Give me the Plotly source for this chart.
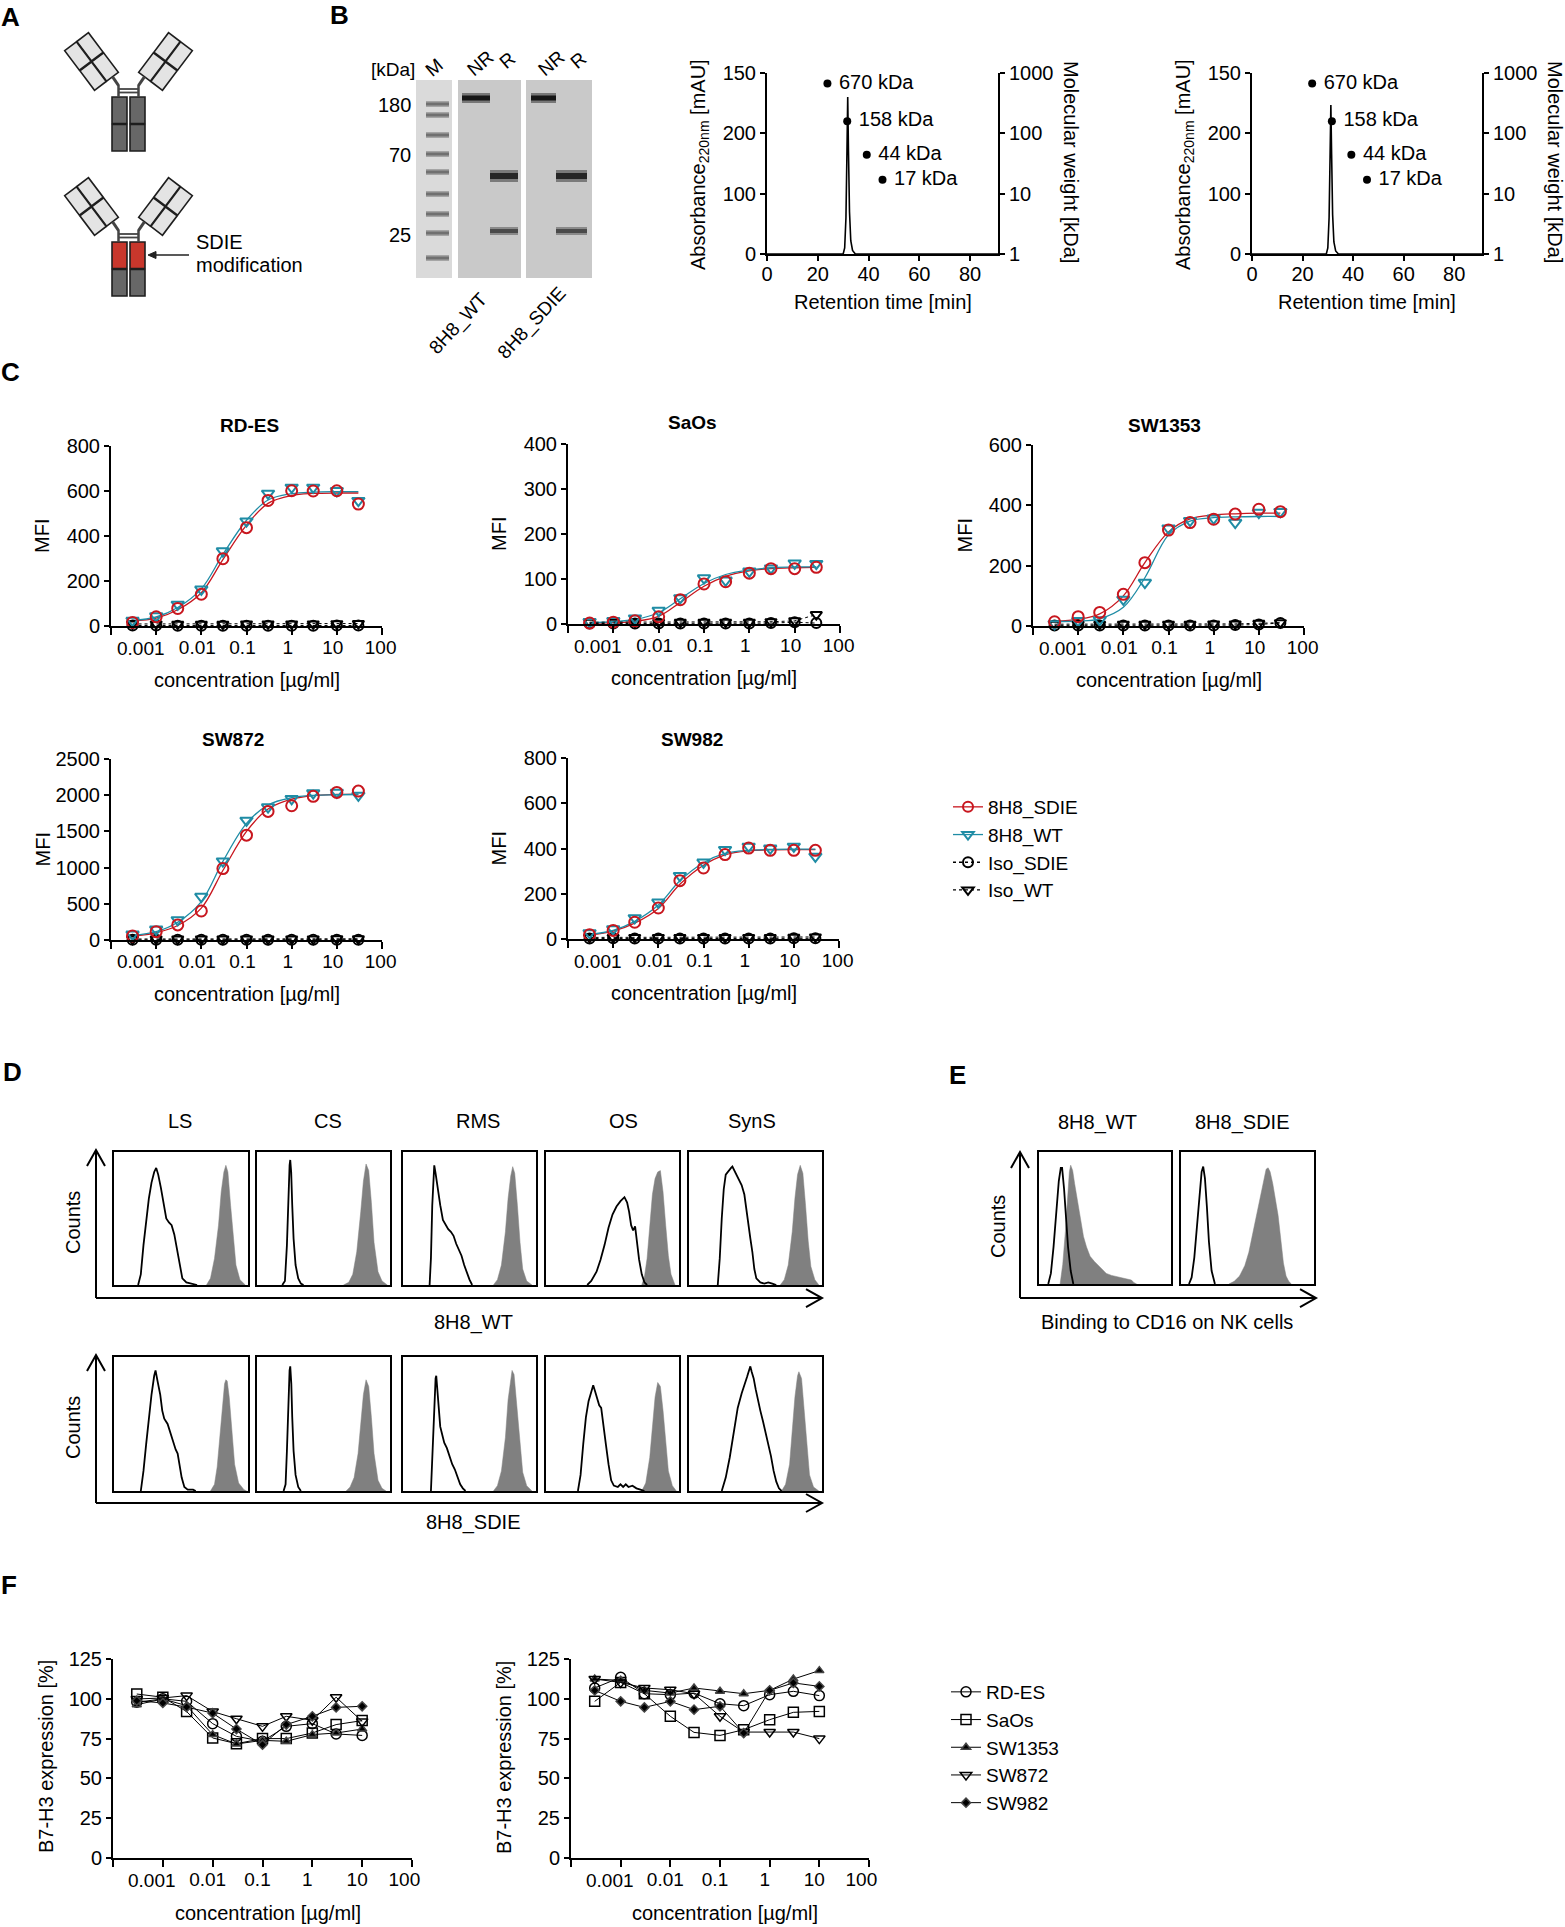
import math
import plotly.graph_objects as go

W, H = 1565, 1927
FONT = "Liberation Sans, Arial, sans-serif"

# ---------------------------------------------------------------- data
# B  SDS-PAGE (band migration, px from top of gel)
gel_ladder_migration = [24, 35, 55, 74, 92, 114, 134, 153, 178]
gel_ladder_label_migration = [25, 75, 155]
gel_ladder_labels = ["180", "70", "25"]
gel_nonreduced_migration = [18]
gel_heavy_migration = [96]
gel_light_migration = [151]

# B  size exclusion chromatography
sec_wt_time = [0, 30.0, 30.6, 31.1, 31.5, 31.8, 32.1, 32.5, 33.0, 33.7, 34.8, 91]
sec_wt_abs = [0, 0, 10, 60, 170, 260, 170, 70, 22, 6, 0, 0]
sec_sdie_time = [0, 29.4, 30.0, 30.5, 30.9, 31.2, 31.5, 31.9, 32.4, 33.1, 34.2, 91]
sec_sdie_abs = [0, 0, 10, 60, 165, 247, 165, 65, 20, 5, 0, 0]
sec_std_time = [23.8, 31.6, 39.3, 45.5]
sec_std_kda = [670, 158, 44, 17]
sec_std_text = ["670 kDa", "158 kDa", "44 kDa", "17 kDa"]

# C  binding titration (MFI)
conc_c = [0.0003, 0.001, 0.003, 0.01, 0.03, 0.1, 0.3, 1, 3, 10, 30]

rdes_sdie = [16, 41, 78, 141, 299, 437, 558, 601, 600, 601, 542]
rdes_wt = [24, 44, 96, 163, 333, 466, 589, 616, 616, 601, 557]
rdes_sdie_fit = [22, 35, 72, 148, 295, 448, 545, 580, 589, 591, 591]
rdes_wt_fit = [25, 40, 82, 165, 318, 470, 560, 588, 595, 597, 597]
rdes_iso_sdie = [2, 2, 1, 1, 1, 1, 1, 1, 1, 2, 2]
rdes_iso_wt = [9, 9, 8, 8, 8, 9, 9, 9, 9, 10, 11]

saos_sdie = [2, 4, 7, 16, 54, 89, 94, 113, 123, 123, 126]
saos_wt = [5, 7, 13, 30, 58, 102, 97, 117, 124, 135, 134]
saos_sdie_fit = [2, 3, 6, 17, 48, 84, 106, 118, 123, 125, 126]
saos_wt_fit = [3, 5, 10, 25, 56, 90, 110, 120, 125, 127, 127]
saos_iso_sdie = [1, 1, 1, 1, 1, 1, 1, 1, 2, 4, 2]
saos_iso_wt = [4, 4, 4, 4, 4, 4, 4, 4, 5, 7, 21]

sw1353_sdie = [14, 31, 45, 105, 210, 318, 343, 354, 371, 387, 379]
sw1353_wt = [7, 17, 20, 88, 144, 324, 349, 357, 343, 376, 379]
sw1353_sdie_fit = [16, 22, 40, 100, 210, 312, 355, 368, 372, 374, 374]
sw1353_wt_fit = [15, 16, 24, 62, 160, 302, 348, 359, 362, 363, 363]
sw1353_iso_sdie = [2, 2, 2, 2, 2, 2, 2, 2, 3, 5, 10]
sw1353_iso_wt = [6, 6, 6, 6, 6, 6, 6, 7, 7, 9, 11]

sw872_sdie = [55, 115, 208, 401, 987, 1448, 1776, 1854, 1984, 2039, 2057]
sw872_wt = [78, 148, 277, 600, 1089, 1651, 1836, 1951, 2030, 2039, 1997]
sw872_sdie_fit = [55, 100, 200, 440, 960, 1500, 1810, 1945, 1995, 2010, 2015]
sw872_wt_fit = [62, 115, 245, 530, 1085, 1610, 1865, 1965, 1998, 2006, 2010]
sw872_iso_sdie = [3, 3, 3, 3, 3, 3, 3, 3, 3, 4, 5]
sw872_iso_wt = [14, 14, 14, 14, 14, 14, 14, 14, 14, 16, 17]

sw982_sdie = [19, 38, 74, 137, 258, 314, 373, 402, 392, 392, 392]
sw982_wt = [27, 44, 93, 162, 280, 339, 395, 409, 401, 409, 365]
sw982_sdie_fit = [18, 35, 70, 135, 242, 326, 372, 390, 394, 395, 395]
sw982_wt_fit = [20, 38, 78, 150, 257, 337, 378, 392, 396, 397, 397]
sw982_iso_sdie = [2, 3, 2, 2, 2, 2, 2, 2, 2, 3, 3]
sw982_iso_wt = [7, 7, 7, 7, 7, 7, 7, 7, 7, 8, 9]

# D / E  flow histograms, (channel %, counts % of max) pairs
ls_wt_iso = [(18, 0), (20, 8), (22, 30), (24, 50), (26, 65), (28, 77), (30, 85), (31.5, 88), (33, 83), (35, 73),
             (37, 62), (39, 50), (41, 47), (43, 45), (45, 38), (47, 27), (49, 15), (51, 5), (54, 2), (58, 1), (62, 0)]
ls_wt_stain = [(69, 0), (72, 5), (75, 20), (78, 45), (80, 70), (82, 85), (83.5, 90), (85, 85), (87, 60), (89, 35),
               (91, 15), (94, 4), (98, 0)]
cs_wt_iso = [(19, 0), (21, 3), (22.5, 30), (23.5, 70), (24.5, 90), (25, 94), (25.7, 85), (26.5, 60), (27.5, 35),
             (29, 15), (31, 5), (33, 1), (35, 0)]
cs_wt_stain = [(65, 0), (69, 2), (72, 8), (75, 25), (78, 55), (80, 78), (82, 91), (84, 86), (86, 62), (88, 32),
               (91, 10), (94, 3), (98, 0)]
rms_wt_iso = [(20, 0), (21, 20), (22, 60), (23, 85), (23.5, 90), (24.5, 84), (26, 72), (28, 60), (30, 49), (32, 45),
              (34, 42), (36, 40), (38, 37), (40, 31), (42, 27), (44, 22), (46, 15), (48, 9), (50, 4), (52, 0)]
rms_wt_stain = [(68, 0), (71, 4), (74, 15), (77, 40), (79, 65), (81, 82), (82.5, 89), (84, 84), (86, 60), (88, 32),
                (90, 12), (93, 3), (97, 0)]
os_wt_iso = [(31, 0), (34, 3), (38, 10), (41, 19), (44, 30), (47, 43), (50, 53), (53, 59), (56, 63), (59, 66),
             (61, 62), (62.5, 55), (64, 45), (65.5, 41), (67, 44), (68.5, 32), (70, 19), (72, 8), (74, 2), (76, 0)]
os_wt_stain = [(72, 0), (74, 6), (76, 20), (78, 45), (80, 68), (82, 80), (84, 85), (86, 86), (88, 70), (90, 45),
               (92, 22), (94, 8), (97, 0)]
syns_wt_iso = [(22, 0), (23.5, 20), (25, 50), (26.5, 72), (28, 83), (30, 86), (32, 88), (33, 89), (34.5, 86),
               (36, 84), (38, 80), (40, 75), (42, 68), (43.5, 56), (45, 45), (46.5, 35), (48, 25), (49.5, 12),
               (51, 5), (54, 2), (57, 1), (60, 2), (63, 1), (66, 0)]
syns_wt_stain = [(69, 0), (72, 4), (75, 15), (78, 40), (80, 65), (82, 83), (84, 90), (86, 84), (88, 60), (90, 33),
                 (92, 14), (95, 4), (98, 0)]

ls_sdie_iso = [(20, 0), (22, 15), (24, 35), (26, 55), (28, 72), (30, 86), (31, 90), (32.5, 82), (34.5, 72), (36, 60),
               (37.5, 54), (40, 50), (42, 43), (44, 36), (46, 31), (47.5, 28), (49, 18), (50.5, 10), (52.5, 3),
               (55, 1), (59, 1), (61, 0)]
ls_sdie_stain = [(72, 0), (75, 5), (77, 18), (79, 40), (81, 65), (82.5, 80), (83.5, 83), (84.5, 82), (86, 70),
                 (88, 45), (90, 20), (93, 6), (97, 1), (99, 0)]
cs_sdie_iso = [(20, 0), (21.5, 5), (22.5, 30), (23.5, 70), (24.5, 90), (25, 93), (25.8, 80), (26.5, 55), (27.5, 30),
               (29, 12), (31, 3), (33, 0)]
cs_sdie_stain = [(67, 0), (70, 3), (73, 10), (76, 28), (78, 50), (80, 72), (82, 83), (84, 78), (86, 55), (88, 28),
                 (91, 8), (94, 2), (97, 0)]
rms_sdie_iso = [(21, 0), (22.3, 35), (23.5, 70), (24.5, 84), (25, 86), (25.8, 75), (26.8, 60), (28, 48), (29.5, 42),
                (31, 36), (33, 32), (35, 25), (37, 20), (39, 16), (41, 11), (43, 5), (45, 2), (47, 0)]
rms_sdie_stain = [(68, 0), (71, 4), (74, 15), (77, 40), (79, 68), (81, 85), (82, 90), (83.5, 87), (85.5, 65),
                  (88, 35), (90, 14), (93, 4), (97, 0)]
os_sdie_iso = [(24, 0), (26, 12), (28, 35), (30, 55), (32, 67), (34, 75), (35.5, 79), (37, 74), (38.5, 68), (40, 64),
               (41.5, 62), (43, 52), (45, 35), (47, 20), (49, 8), (51, 4), (54, 3), (56, 5), (58, 3), (60, 5),
               (62, 3), (65, 4), (68, 2), (71, 1), (74, 0)]
os_sdie_stain = [(72, 0), (75, 6), (78, 25), (80, 50), (82, 70), (84, 81), (86, 78), (88, 60), (90, 35), (92, 15),
                 (95, 4), (98, 0)]
syns_sdie_iso = [(25, 0), (28, 10), (31, 25), (34, 45), (37, 62), (40, 73), (42, 80), (44, 85), (45.5, 90),
                 (46.5, 93), (47.5, 89), (49, 84), (50.5, 76), (52, 68), (54, 60), (56, 52), (58, 44), (60, 36),
                 (62, 26), (64, 15), (66, 7), (68, 2), (70, 0)]
syns_sdie_stain = [(70, 0), (73, 5), (76, 20), (78, 45), (80, 70), (82, 86), (83, 89), (85, 84), (87, 60), (89, 32),
                   (91, 12), (94, 3), (98, 0)]

nk_wt_iso = [(7, 0), (9, 8), (11, 28), (13, 55), (15, 78), (16.5, 88), (17.5, 88), (19, 72), (20.5, 50), (22, 28),
             (24, 10), (26, 0)]
nk_wt_stain = [(16, 0), (18, 15), (20, 40), (22, 70), (23, 85), (24, 90), (25.5, 86), (27, 76), (28.6, 66), (30, 57),
               (32, 45), (33.7, 36), (36, 28), (38.7, 21), (42, 17), (46, 13), (49, 10), (51, 8), (55, 6.5),
               (59, 5.5), (63, 4.5), (66.6, 4), (70, 3), (72, 1), (74, 0)]
nk_sdie_iso = [(6, 0), (8, 5), (10, 20), (12, 45), (14, 70), (15.5, 85), (16.7, 89), (18, 80), (19.5, 58), (21, 32),
               (23, 10), (25.5, 0)]
nk_sdie_stain = [(36, 0), (40, 2), (44, 6), (48, 14), (51, 24), (54, 38), (57, 52), (60, 66), (62, 78), (64, 87),
                 (65.5, 88), (67, 85), (69, 76), (71, 64), (73, 52), (75, 34), (77, 16), (79, 6), (81, 2), (83, 0)]

# F  B7-H3 expression after antibody treatment
conc_f = [0.0003, 0.001, 0.003, 0.01, 0.03, 0.1, 0.3, 1, 3, 10]
f_lines = ["RD-ES", "SaOs", "SW1353", "SW872", "SW982"]
f1_rdes = [97.8, 100, 98.4, 84.4, 76.4, 73.3, 82.7, 84.4, 77.9, 77]
f1_saos = [103, 101, 92, 75.4, 71.8, 75, 75, 78.5, 83.8, 86.3]
f1_sw1353 = [96.3, 99.9, 95.7, 77.5, 71.6, 73.9, 73.3, 77.5, 78.5, 81]
f1_sw872 = [99.9, 100.5, 102, 92, 87.5, 82.7, 89, 86.5, 101, 85.8]
f1_sw982 = [98.8, 97.4, 94.8, 91, 81, 71.2, 83.8, 89, 94.6, 95.3]
f2_rdes = [106.8, 113.5, 103.2, 102.6, 103.6, 96.9, 95.7, 102.6, 104.7, 102]
f2_saos = [98.4, 110.3, 103.2, 89, 78.9, 77, 80.6, 86.9, 91.5, 92.1]
f2_sw1353 = [112.4, 111.6, 105.3, 103.6, 106.8, 104.7, 103.2, 105.3, 112.4, 117.7]
f2_sw872 = [112.4, 110.3, 106.8, 105.7, 103.2, 89, 79.1, 79.1, 79.1, 75]
f2_sw982 = [105.3, 98.4, 94.6, 98.4, 93.2, 95.3, 78.5, 105.3, 110, 107.8]

# log-axis tick labels; Prism nudges them left of their ticks.  The crowded
# first label (0.001) is written as a separate text so it can sit further left.
log_ticks = [0.01, 0.1, 1, 10, 100]
log_labels = ["0.01", "0.1", "1", "10", "100"]
c_label_pad = [0, 0, 0, 0, -1]
f_label_pad = [0, 0, 0, 0, 1]

RED = "#c8161e"
TEAL = "#1f8ca5"

# ---------------------------------------------------------------- helpers
fig = go.Figure()
axes = {}
ann = []
shp = []
count = {"n": 0}


def ref(prefix, n):
    return prefix if n == 1 else f"{prefix}{n}"


def add_axes(x0, x1, y0, y1, xopt, yopt):
    count["n"] += 1
    n = count["n"]
    axes[ref("xaxis", n)] = dict(domain=[x0 / W, x1 / W], anchor=ref("y", n), automargin=False, **xopt)
    axes[ref("yaxis", n)] = dict(domain=[1 - y1 / H, 1 - y0 / H], anchor=ref("x", n), automargin=False, **yopt)
    return ref("x", n), ref("y", n)


def style(**kw):
    d = dict(showline=True, linecolor="black", linewidth=2, ticks="outside", tickcolor="black",
             tickwidth=2, ticklen=6, showgrid=False, zeroline=False, fixedrange=True, tickangle=0,
             tickfont=dict(family=FONT, size=20, color="black"))
    d.update(kw)
    return d


def pad_label(t, p):
    return t + "\u00a0" * p if p >= 0 else "\u00a0" * (-p) + t


def log_axis(pad, shift):
    return style(type="log", range=[-4, 2], tickvals=log_ticks, ticklen=7, ticklabelshift=shift,
                 ticklabelstandoff=-4,
                 ticktext=[pad_label(t, p) for t, p in zip(log_labels, pad)],
                 tickfont=dict(family=FONT, size=19, color="black"),
                 minor=dict(tickvals=[0.0001, 0.001], ticks="outside", ticklen=7, tickwidth=2,
                            tickcolor="black", showgrid=False))


HIDDEN = dict(visible=False, showgrid=False, zeroline=False, fixedrange=True, showticklabels=False)


def text(x, y, s, size=20, bold=False, angle=0, xanchor="center", yanchor="middle"):
    ann.append(dict(x=x / W, y=1 - y / H, xref="paper", yref="paper", showarrow=False,
                    text=f"<b>{s}</b>" if bold else s, textangle=angle,
                    xanchor=xanchor, yanchor=yanchor,
                    font=dict(family=FONT, size=size, color="black")))


def first_log_label(x0, x1, y1, nudge):
    # position of 0.001 on a log axis spanning 1e-4 .. 1e2
    xt = x0 + (math.log10(0.001) + 4) / 6 * (x1 - x0)
    text(xt + nudge, y1 + 22, "0.001", size=19)


def P(x, y):
    return f"{x / W:.5f},{1 - y / H:.5f}"


def add_poly(pts, fill, line="#333333", width=1.2):
    shp.append(dict(type="path", xref="paper", yref="paper", layer="above",
                    path="M " + " L ".join(P(x, y) for x, y in pts) + " Z",
                    fillcolor=fill, line=dict(color=line, width=width)))


def add_line(pts, color="black", width=2):
    shp.append(dict(type="path", xref="paper", yref="paper", layer="above",
                    path="M " + " L ".join(P(x, y) for x, y in pts),
                    fillcolor="rgba(0,0,0,0)", line=dict(color=color, width=width)))


def rot_rect(cx, cy, w, h, ang):
    a = math.radians(ang)
    ux, uy = math.sin(a), -math.cos(a)
    vx, vy = math.cos(a), math.sin(a)
    return [(cx + sv * w / 2 * vx + su * h / 2 * ux, cy + sv * w / 2 * vy + su * h / 2 * uy)
            for sv, su in [(-1, -1), (1, -1), (1, 1), (-1, 1)]]


# ---------------------------------------------------------------- A  schematic
def antibody(dy, upper_fc):
    edge = "#1e1e1e"
    for x0, x1 in [(112, 127), (130, 145)]:
        add_poly([(x0, 97 + dy), (x1, 97 + dy), (x1, 123.5 + dy), (x0, 123.5 + dy)], upper_fc, edge, 1.6)
        add_poly([(x0, 124.5 + dy), (x1, 124.5 + dy), (x1, 151 + dy), (x0, 151 + dy)], "#676767", edge, 1.6)
    hc = "#444444"
    add_line([(118.5, 97 + dy), (118.5, 85 + dy)], hc, 2.5)
    add_line([(138.5, 97 + dy), (138.5, 85 + dy)], hc, 2.5)
    add_line([(118.5, 89 + dy), (138.5, 89 + dy)], hc, 1.8)
    add_line([(118.5, 92.5 + dy), (138.5, 92.5 + dy)], hc, 1.8)
    for side in (-1, 1):
        a = 37 * side
        cx, cy = 128.5 + 37 * side, 61.5 + dy
        r = math.radians(a)
        ux, uy = math.sin(r), -math.cos(r)
        vx, vy = math.cos(r), math.sin(r)
        k = -side
        inner = (cx + k * 7.6 * vx, cy + k * 7.6 * vy)
        outer = (cx - k * 7.6 * vx, cy - k * 7.6 * vy)
        for col in (inner, outer):
            for s in (-1, 1):
                add_poly(rot_rect(col[0] + s * 12.6 * ux, col[1] + s * 12.6 * uy, 14.6, 24.4, a), "#e4e4e4",
                         edge, 1.6)
        bot = (inner[0] - 25 * ux, inner[1] - 25 * uy)
        add_line([(128.5 + 10 * side, 85.5 + dy), bot], hc, 3)


antibody(0, "#676767")
antibody(145, "#c8372c")
text(194, 242, "SDIE", xanchor="left")
text(194, 265, "modification", xanchor="left")
add_line([(189, 255), (150, 255)], "#222", 1.3)
add_poly([(148, 255), (156, 251.5), (156, 258.5)], "#222", "#222", 1)

# ---------------------------------------------------------------- B  gel
gx, gy = add_axes(416, 592, 80, 278, dict(HIDDEN, range=[0, 176]), dict(HIDDEN, range=[198, 0]))
for x0, x1, col in [(0, 36, "#dadada"), (42, 105, "#c9c9c9"), (110, 176, "#c9c9c9")]:
    shp.append(dict(type="rect", xref=gx, yref=gy, x0=x0, x1=x1, y0=0, y1=198, layer="below",
                    fillcolor=col, line=dict(width=0)))


def bands(x0, x1, migs, color, width):
    xs, ys = [], []
    for m in migs:
        xs += [x0, x1, None]
        ys += [m, m, None]
    fig.add_trace(go.Scatter(x=xs, y=ys, xaxis=gx, yaxis=gy, mode="lines", showlegend=False,
                             hoverinfo="skip", line=dict(color=color, width=width)))


bands(10, 33, gel_ladder_migration, "#a5a5a5", 6)
bands(10, 33, gel_ladder_migration, "#707070", 3)
for lo, hi, rlo, rhi in [(46, 74, 74, 102), (115, 140, 140, 171)]:
    bands(lo, hi, gel_nonreduced_migration, "#777777", 10)
    bands(lo, hi, gel_nonreduced_migration, "#151515", 5)
    bands(rlo, rhi, gel_heavy_migration, "#7a7a7a", 12)
    bands(rlo, rhi, gel_heavy_migration, "#262626", 6)
    bands(rlo, rhi, gel_light_migration, "#8a8a8a", 8)
    bands(rlo, rhi, gel_light_migration, "#4a4a4a", 4)

for lab, m in zip(gel_ladder_labels, gel_ladder_label_migration):
    text(413, 80 + m, lab, xanchor="right")
text(393, 70, "[kDa]", size=19)
text(434, 67, "M", size=19, angle=-40)
for xn in (480, 551):
    text(xn, 64, "NR", size=19, angle=-40)
    text(xn + 27, 60, "R", size=19, angle=-40)
text(458, 324, "8H8_WT", size=19, angle=-47)
text(532, 323, "8H8_SDIE", size=19, angle=-47)

# ---------------------------------------------------------------- B  chromatograms
for (x0, x1), t, a in [((767, 998), sec_wt_time, sec_wt_abs), ((1252, 1482), sec_sdie_time, sec_sdie_abs)]:
    xr, yr = add_axes(x0, x1, 73, 254,
                      style(range=[0, 91], tickvals=[0, 20, 40, 60, 80], ticklen=5, ticklabelstandoff=-4),
                      style(range=[0, 300], tickvals=[0, 100, 200, 300],
                            ticktext=["0", "100", "200", "150"], ticklen=5))
    count["n"] += 1
    yr2 = ref("y", count["n"])
    axes[ref("yaxis", count["n"])] = style(overlaying=yr, anchor=xr, side="right", type="log", automargin=False,
                                           range=[0, 3], tickvals=[1, 10, 100, 1000],
                                           ticktext=["1", "10", "100", "1000"], ticklen=5)
    fig.add_trace(go.Scatter(x=t, y=a, xaxis=xr, yaxis=yr, mode="lines", showlegend=False,
                             line=dict(color="black", width=1.6)))
    fig.add_trace(go.Scatter(x=sec_std_time, y=sec_std_kda, xaxis=xr, yaxis=yr2, mode="markers+text",
                             text=["\u00a0" + s for s in sec_std_text], textposition="middle right",
                             textfont=dict(family=FONT, size=20, color="black"), cliponaxis=False,
                             showlegend=False, marker=dict(color="black", size=8)))
    text(x0 - 68, 165, "Absorbance<sub>220nm</sub> [mAU]", angle=-90)
    text(x1 + 73, 162, "Molecular weight [kDa]", angle=90)
    text((x0 + x1) / 2, 302, "Retention time [min]")

# ---------------------------------------------------------------- C  titration curves
c_panels = [
    ("RD-ES", (111, 382, 446, 626), 800, 200, (249, 425),
     rdes_sdie, rdes_wt, rdes_sdie_fit, rdes_wt_fit, rdes_iso_sdie, rdes_iso_wt),
    ("SaOs", (568, 840, 444, 624), 400, 100, (692, 423),
     saos_sdie, saos_wt, saos_sdie_fit, saos_wt_fit, saos_iso_sdie, saos_iso_wt),
    ("SW1353", (1033, 1304, 445, 626), 600, 200, (1164, 425),
     sw1353_sdie, sw1353_wt, sw1353_sdie_fit, sw1353_wt_fit, sw1353_iso_sdie, sw1353_iso_wt),
    ("SW872", (111, 382, 759, 940), 2500, 500, (233, 739),
     sw872_sdie, sw872_wt, sw872_sdie_fit, sw872_wt_fit, sw872_iso_sdie, sw872_iso_wt),
    ("SW982", (568, 839, 758, 939), 800, 200, (692, 739),
     sw982_sdie, sw982_wt, sw982_sdie_fit, sw982_wt_fit, sw982_iso_sdie, sw982_iso_wt),
]

for name, (x0, x1, y0, y1), ymax, dt, (tx, ty), sd, wt, sdf, wtf, isd, iwt in c_panels:
    xr, yr = add_axes(x0, x1, y0, y1, log_axis(c_label_pad, -4),
                      style(range=[0, ymax], tickvals=list(range(0, ymax + 1, dt)), ticklen=5))
    kw = dict(xaxis=xr, yaxis=yr, showlegend=False, cliponaxis=False, hoverinfo="skip")
    fig.add_trace(go.Scatter(x=conc_c, y=sdf, mode="lines", line=dict(color=RED, width=1.3, shape="spline"), **kw))
    fig.add_trace(go.Scatter(x=conc_c, y=wtf, mode="lines", line=dict(color=TEAL, width=1.3, shape="spline"), **kw))
    fig.add_trace(go.Scatter(x=conc_c, y=isd, mode="lines+markers", line=dict(color="black", width=1, dash="dot"),
                             marker=dict(symbol="circle-open", size=10, color="black", line=dict(width=2)), **kw))
    fig.add_trace(go.Scatter(x=conc_c, y=iwt, mode="lines+markers", line=dict(color="black", width=1, dash="dot"),
                             marker=dict(symbol="triangle-down-open", size=10, color="black",
                                         line=dict(width=2)), **kw))
    fig.add_trace(go.Scatter(x=conc_c, y=wt, mode="markers",
                             marker=dict(symbol="triangle-down-open", size=11, color=TEAL, line=dict(width=2)), **kw))
    fig.add_trace(go.Scatter(x=conc_c, y=sd, mode="markers",
                             marker=dict(symbol="circle-open", size=11, color=RED, line=dict(width=2)), **kw))
    first_log_label(x0, x1, y1, -15)
    text(tx, ty, name, size=19, bold=True)
    text(x0 - 69, (y0 + y1) / 2, "MFI", angle=-90)
    text((x0 + x1) / 2, y1 + 54, "concentration [µg/ml]")

for nm, col, sym, dash in [("8H8_SDIE", RED, "circle-open", "solid"), ("8H8_WT", TEAL, "triangle-down-open", "solid"),
                           ("Iso_SDIE", "black", "circle-open", "dot"), ("Iso_WT", "black", "triangle-down-open", "dot")]:
    fig.add_trace(go.Scatter(x=[None], y=[None], mode="lines+markers", name=nm, legend="legend",
                             line=dict(color=col, width=1.3, dash=dash),
                             marker=dict(symbol=sym, size=10, color=col, line=dict(width=2))))

# ---------------------------------------------------------------- D / E  histograms
d_cols = ["LS", "CS", "RMS", "OS", "SynS"]
d_col_label_x = [180, 328, 478, 623, 752]
d_box_x = [(114, 248), (257, 390), (403, 536), (546, 679), (688.5, 821.5)]
d_rows = [
    ((1152, 1285), [ls_wt_iso, cs_wt_iso, rms_wt_iso, os_wt_iso, syns_wt_iso],
     [ls_wt_stain, cs_wt_stain, rms_wt_stain, os_wt_stain, syns_wt_stain]),
    ((1357, 1491), [ls_sdie_iso, cs_sdie_iso, rms_sdie_iso, os_sdie_iso, syns_sdie_iso],
     [ls_sdie_stain, cs_sdie_stain, rms_sdie_stain, os_sdie_stain, syns_sdie_stain]),
]
e_boxes = [((1039, 1171), nk_wt_iso, nk_wt_stain), ((1181, 1314), nk_sdie_iso, nk_sdie_stain)]

box_ax = dict(showline=True, mirror=True, linecolor="black", linewidth=2, showticklabels=False,
              ticks="", showgrid=False, zeroline=False, fixedrange=True)


def histo(x0, x1, y0, y1, iso, stain):
    xr, yr = add_axes(x0, x1, y0, y1, dict(box_ax, range=[0, 100]), dict(box_ax, range=[0, 100]))
    fig.add_trace(go.Scatter(x=[p[0] for p in stain], y=[p[1] for p in stain], xaxis=xr, yaxis=yr,
                             mode="lines", fill="tozeroy", fillcolor="#808080", showlegend=False,
                             hoverinfo="skip", line=dict(color="#808080", width=0.5)))
    fig.add_trace(go.Scatter(x=[p[0] for p in iso], y=[p[1] for p in iso], xaxis=xr, yaxis=yr,
                             mode="lines", showlegend=False, hoverinfo="skip",
                             line=dict(color="black", width=1.8)))


for (y0, y1), isos, stains in d_rows:
    for (x0, x1), iso, st in zip(d_box_x, isos, stains):
        histo(x0, x1, y0, y1, iso, st)
for (x0, x1), iso, st in e_boxes:
    histo(x0, x1, 1152, 1284, iso, st)

for lab, x in zip(d_cols, d_col_label_x):
    text(x, 1121, lab)


def arrow_axes(xa, ytop, ybot, xright, lw=2):
    add_line([(xa, ybot), (xa, ytop)], "black", lw)
    add_line([(xa - 9, ytop + 16), (xa, ytop), (xa + 9, ytop + 16)], "black", lw)
    add_line([(xa, ybot), (xright, ybot)], "black", lw)
    add_line([(xright - 16, ybot - 9), (xright, ybot), (xright - 16, ybot + 9)], "black", lw)


arrow_axes(96, 1150, 1298, 822)
arrow_axes(96, 1355, 1503, 822)
arrow_axes(1020, 1152, 1298, 1316)
text(73, 1223, "Counts", angle=-90)
text(73, 1428, "Counts", angle=-90)
text(473, 1322, "8H8_WT")
text(473, 1522, "8H8_SDIE")
text(1097, 1122, "8H8_WT")
text(1242, 1122, "8H8_SDIE")
text(998, 1227, "Counts", angle=-90)
text(1167, 1322, "Binding to CD16 on NK cells")

# ---------------------------------------------------------------- F  expression
f_sym = [("circle-open", 10), ("square-open", 10), ("triangle-up", 8), ("triangle-down-open", 10), ("diamond", 7)]
f_panels = [((113, 412), [f1_rdes, f1_saos, f1_sw1353, f1_sw872, f1_sw982], False),
            ((571, 869), [f2_rdes, f2_saos, f2_sw1353, f2_sw872, f2_sw982], True)]
for (x0, x1), series, leg in f_panels:
    xr, yr = add_axes(x0, x1, 1659, 1858, log_axis(f_label_pad, -5),
                      style(range=[0, 125], tickvals=[0, 25, 50, 75, 100, 125], ticklen=5))
    for nm, vals, (sym, sz) in zip(f_lines, series, f_sym):
        fig.add_trace(go.Scatter(x=conc_f, y=vals, xaxis=xr, yaxis=yr, mode="lines+markers", name=nm,
                                 legend="legend2", showlegend=leg, cliponaxis=False, hoverinfo="skip",
                                 line=dict(color="black", width=1),
                                 marker=dict(symbol=sym, size=sz, color="black", line=dict(width=1.5))))
    first_log_label(x0, x1, 1858, -11)
    text(x0 - 67, 1757, "B7-H3 expression [%]", angle=-90)
    text((x0 + x1) / 2 + 5, 1913, "concentration [µg/ml]")

# ---------------------------------------------------------------- panel letters
for lab, x, y in [("A", 10, 17), ("B", 339, 15), ("C", 10, 372), ("D", 12, 1072), ("E", 957, 1075),
                  ("F", 9, 1585)]:
    text(x, y, lab, size=26, bold=True)

leg_common = dict(xanchor="left", yanchor="top", bgcolor="rgba(0,0,0,0)", borderwidth=0,
                  font=dict(family=FONT, size=19, color="black"), itemwidth=30, tracegroupgap=0)
fig.update_layout(
    template="none",
    width=W, height=H, margin=dict(l=0, r=0, t=0, b=0, pad=0, autoexpand=False),
    paper_bgcolor="white", plot_bgcolor="white",
    font=dict(family=FONT, size=20, color="black"),
    showlegend=True,
    legend=dict(leg_common, x=948 / W, y=1 - 788 / H),
    legend2=dict(leg_common, x=946 / W, y=1 - 1673 / H),
    annotations=ann, shapes=shp, **axes,
)
fig.write_html("out.html", config={"displayModeBar": False},
               post_script="document.body.style.margin='0px';")
